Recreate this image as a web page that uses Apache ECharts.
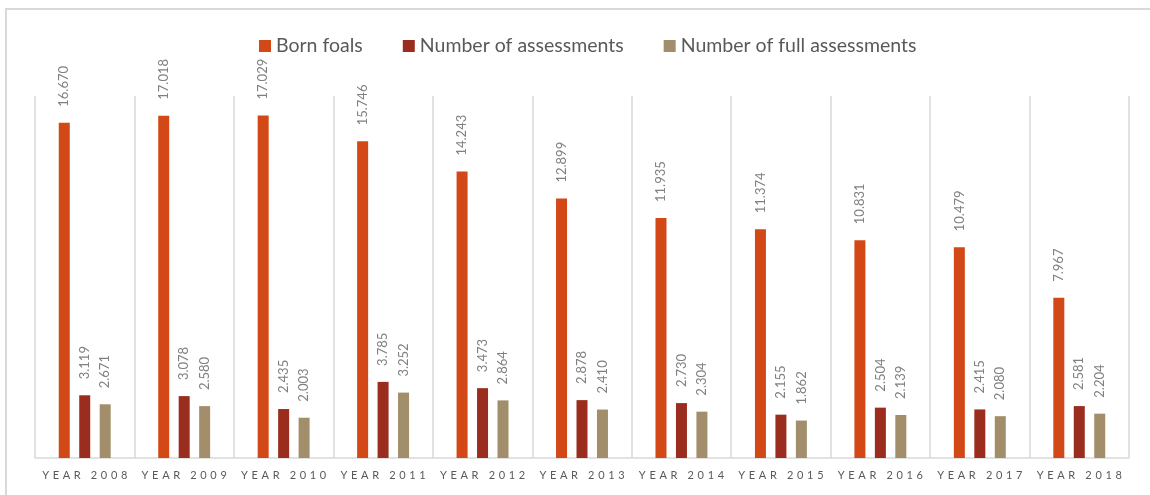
<!DOCTYPE html>
<html>
<head>
<meta charset="utf-8">
<script src="https://cdn.jsdelivr.net/npm/echarts@6/dist/echarts.min.js"></script>
<style>
  html, body { margin: 0; padding: 0; background: #fff; }
  #chart { width: 1150px; height: 495px; }
</style>
</head>
<body>
<div id="chart"></div>
<script>
// data
const years = ['YEAR 2008', 'YEAR 2009', 'YEAR 2010', 'YEAR 2011', 'YEAR 2012', 'YEAR 2013',
  'YEAR 2014', 'YEAR 2015', 'YEAR 2016', 'YEAR 2017', 'YEAR 2018']
const bornFoals = [16670, 17018, 17029, 15746, 14243, 12899, 11935, 11374, 10831, 10479, 7967]
const assessments = [3119, 3078, 2435, 3785, 3473, 2878, 2730, 2155, 2504, 2415, 2581]
const fullAssessments = [2671, 2580, 2003, 3252, 2864, 2410, 2304, 1862, 2139, 2080, 2204]

const font = 'Lato'
const gridColor = '#d9d9d9'

// 16670 -> "16.670"
const fmt = (v) => String(v).replace(/\B(?=(\d{3})+(?!\d))/g, '.')

const barLabel = {
  show: true,
  position: 'top',
  rotate: 90,
  align: 'left',
  verticalAlign: 'middle',
  distance: 16,
  color: '#808080',
  fontFamily: font,
  fontSize: 13,
  formatter: (p) => fmt(p.value)
}

const makeSeries = (name, data, color) => ({
  name: name,
  type: 'bar',
  data: data,
  barWidth: 11,
  barGap: '86%',
  itemStyle: { color: color },
  label: barLabel
})

const chart = echarts.init(document.getElementById('chart'))
chart.setOption({
  animation: false,
  graphic: [{
    type: 'rect',
    shape: { x: 6, y: 9, width: 1170, height: 520 },
    style: { fill: 'none', stroke: gridColor, lineWidth: 2 },
    silent: true
  }],
  legend: {
    top: 31,
    left: 254,
    itemWidth: 12,
    itemHeight: 12,
    itemGap: 40,
    icon: 'rect',
    textStyle: { color: '#595959', fontSize: 19.5, fontFamily: font }
  },
  grid: {
    left: 35,
    right: 21,
    top: 96,
    bottom: 37
  },
  xAxis: {
    type: 'category',
    data: years,
    axisLine: { lineStyle: { color: gridColor, width: 1.5 } },
    axisTick: { show: false },
    splitLine: { show: true, interval: 0, lineStyle: { color: gridColor, width: 1.5 } },
    axisLabel: {
      interval: 0,
      margin: 12,
      color: '#595959',
      fontFamily: font,
      fontSize: 11,
      formatter: (v) => v.split('').join('\u2004')
    }
  },
  yAxis: {
    type: 'value',
    min: 0,
    max: 18000,
    show: false
  },
  series: [
    makeSeries('Born foals', bornFoals, '#D34817'),
    makeSeries('Number of assessments', assessments, '#9B2D1F'),
    makeSeries('Number of full assessments', fullAssessments, '#A28E6A')
  ]
})
</script>
</body>
</html>
